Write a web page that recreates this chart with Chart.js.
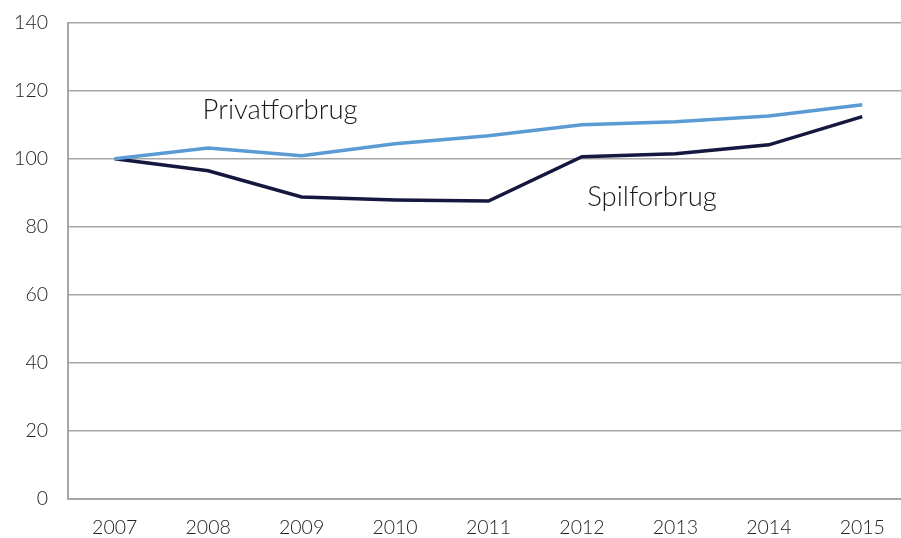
<!DOCTYPE html>
<html>
<head>
<meta charset="utf-8">
<script src="https://cdn.jsdelivr.net/npm/chart.js@4"></script>
<style>
  html, body { margin: 0; padding: 0; background: #fff; overflow: hidden; }
  #wrap { width: 909px; height: 538px; position: relative; }
</style>
</head>
<body>
<div id="wrap"><canvas id="chart"></canvas></div>
<script>
const years = ['2007','2008','2009','2010','2011','2012','2013','2014','2015'];
const privatforbrug = [100, 103.2, 100.9, 104.4, 106.8, 110, 110.9, 112.6, 115.9];
const spilforbrug = [100, 96.5, 88.8, 87.9, 87.6, 100.6, 101.5, 104.1, 112.4];
const yTicks = [0, 20, 40, 60, 80, 100, 120, 140];

const FONT = 'Lato, "Open Sans", sans-serif';

// series names written inside the plot, next to their lines
const seriesLabels = [
  { text: 'Privatforbrug', x: 1.77, y: 114.3 },
  { text: 'Spilforbrug', x: 5.75, y: 88.8 }
];

const labelPlugin = {
  id: 'seriesLabels',
  afterDatasetsDraw(chart) {
    const ctx = chart.ctx;
    const xs = chart.scales.x, ys = chart.scales.y;
    ctx.save();
    ctx.font = '300 27.5px ' + FONT;
    ctx.fillStyle = '#1a1a1a';
    ctx.textAlign = 'center';
    ctx.textBaseline = 'middle';
    seriesLabels.forEach(l => {
      const px = xs.getPixelForValue(0) + l.x * (xs.getPixelForValue(1) - xs.getPixelForValue(0));
      ctx.fillText(l.text, px, ys.getPixelForValue(l.y));
    });
    ctx.restore();
  }
};

new Chart(document.getElementById('chart'), {
  type: 'line',
  data: {
    labels: years,
    datasets: [
      { label: 'Privatforbrug', data: privatforbrug, borderColor: '#5b9bd5', borderWidth: 3.5, pointRadius: 0, tension: 0 },
      { label: 'Spilforbrug', data: spilforbrug, borderColor: '#15173f', borderWidth: 3.5, pointRadius: 0, tension: 0 }
    ]
  },
  options: {
    responsive: true,
    maintainAspectRatio: false,
    animation: false,
    layout: { padding: { top: 22.7, right: 0, left: 0, bottom: 0 } },
    plugins: { legend: { display: false }, tooltip: { enabled: false } },
    scales: {
      x: {
        offset: true,
        grid: { display: false, drawTicks: false },
        border: { color: '#a6a6a6', width: 2 },
        ticks: { color: '#222', font: { family: FONT, size: 19.5, weight: '300' }, padding: 17 },
        afterFit: s => { s.height = 39; }
      },
      y: {
        min: 0, max: 140,
        afterBuildTicks: s => { s.ticks = yTicks.map(v => ({ value: v })); },
        grid: { color: '#a6a6a6', lineWidth: 1.5, drawTicks: false },
        border: { color: '#a6a6a6', width: 2 },
        ticks: { color: '#222', font: { family: FONT, size: 19.5, weight: '300' }, padding: 20 },
        afterFit: s => { s.width = 68; s.paddingTop = 0; s.paddingBottom = 0; }
      }
    }
  },
  plugins: [labelPlugin]
});
</script>
</body>
</html>
